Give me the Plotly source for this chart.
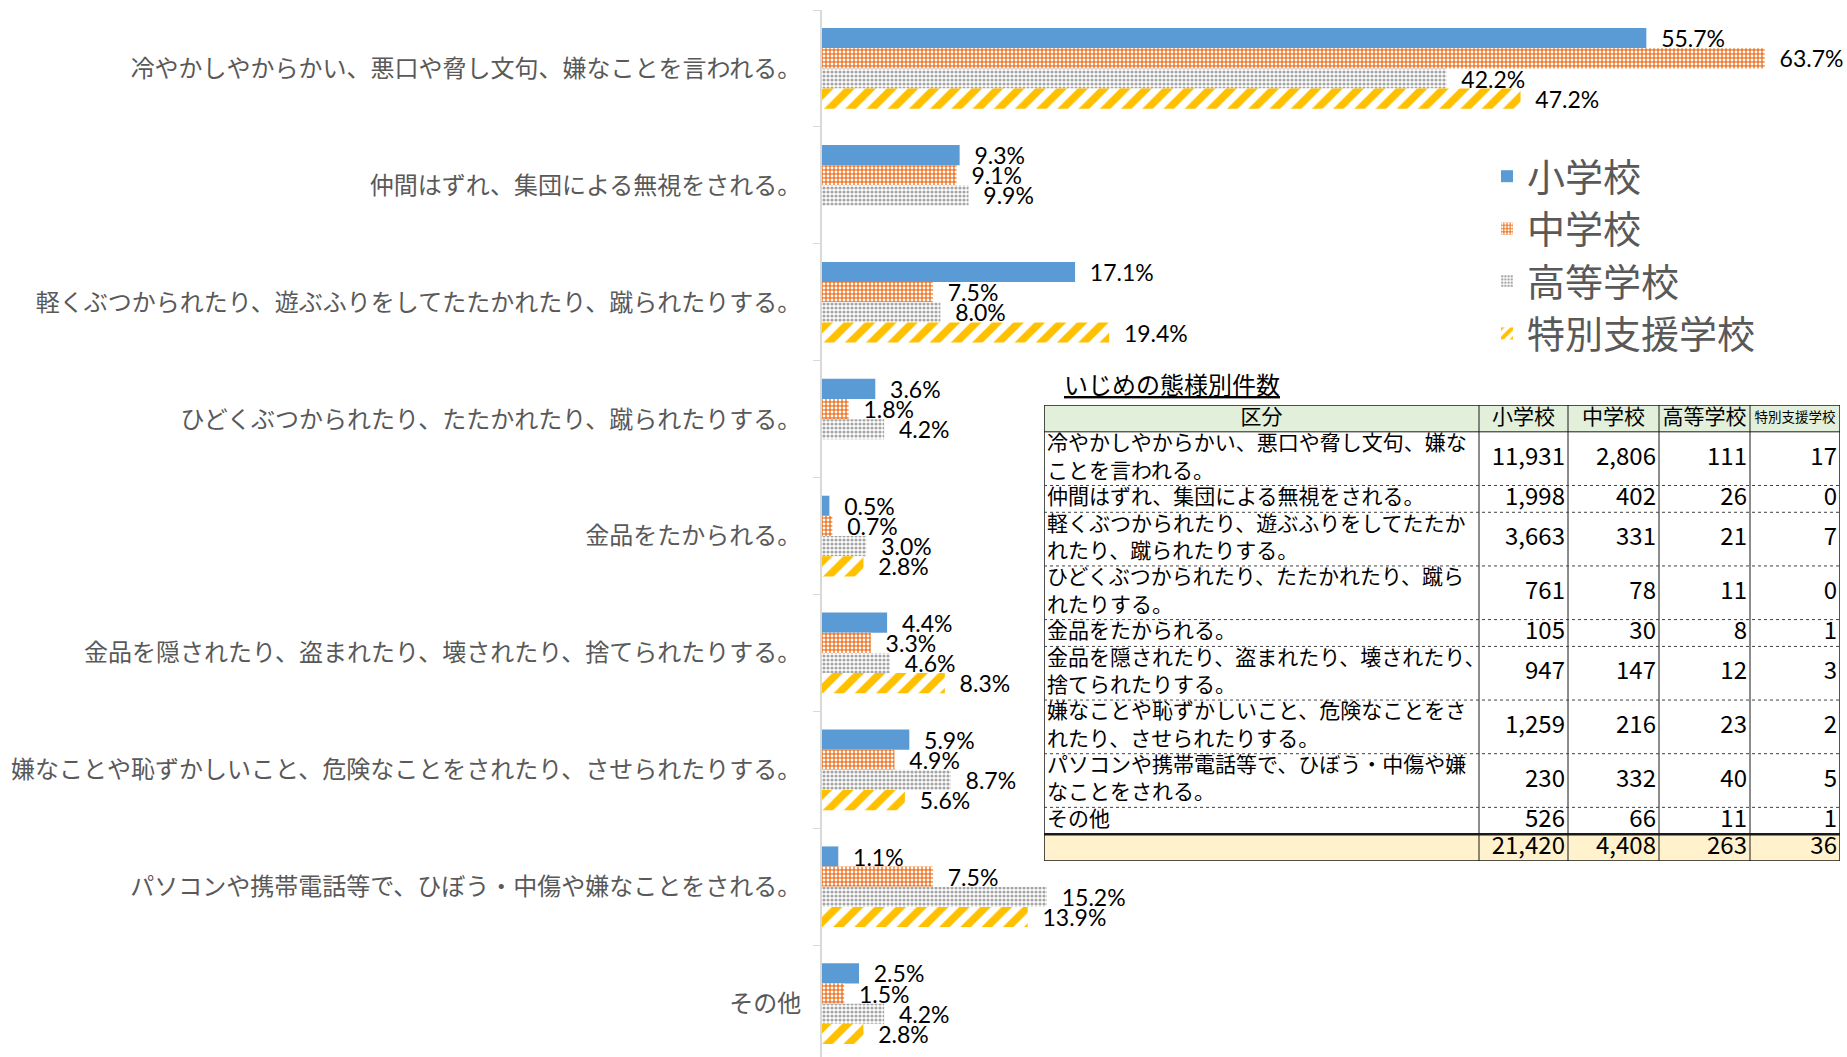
import plotly.graph_objects as go

# categories (bullying types) and schools
categories = [
    "冷やかしやからかい、悪口や脅し文句、嫌なことを言われる。",
    "仲間はずれ、集団による無視をされる。",
    "軽くぶつかられたり、遊ぶふりをしてたたかれたり、蹴られたりする。",
    "ひどくぶつかられたり、たたかれたり、蹴られたりする。",
    "金品をたかられる。",
    "金品を隠されたり、盗まれたり、壊されたり、捨てられたりする。",
    "嫌なことや恥ずかしいこと、危険なことをされたり、させられたりする。",
    "パソコンや携帯電話等で、ひぼう・中傷や嫌なことをされる。",
    "その他",
]
schools = ["小学校", "中学校", "高等学校", "特別支援学校"]

# percentages
pct_elementary = [55.7, 9.3, 17.1, 3.6, 0.5, 4.4, 5.9, 1.1, 2.5]
pct_junior = [63.7, 9.1, 7.5, 1.8, 0.7, 3.3, 4.9, 7.5, 1.5]
pct_high = [42.2, 9.9, 8.0, 4.2, 3.0, 4.6, 8.7, 15.2, 4.2]
pct_special = [47.2, 0, 19.4, 0, 2.8, 8.3, 5.6, 13.9, 2.8]

# table data
table_title = "いじめの態様別件数"
table_header = ["区分", "小学校", "中学校", "高等学校", "特別支援学校"]
table_rows = [
    "冷やかしやからかい、悪口や脅し文句、嫌な<br>ことを言われる。",
    "仲間はずれ、集団による無視をされる。",
    "軽くぶつかられたり、遊ぶふりをしてたたか<br>れたり、蹴られたりする。",
    "ひどくぶつかられたり、たたかれたり、蹴ら<br>れたりする。",
    "金品をたかられる。",
    "金品を隠されたり、盗まれたり、壊されたり、<br>捨てられたりする。",
    "嫌なことや恥ずかしいこと、危険なことをさ<br>れたり、させられたりする。",
    "パソコンや携帯電話等で、ひぼう・中傷や嫌<br>なことをされる。",
    "その他",
    "",
]
cnt_elementary = [11931, 1998, 3663, 761, 105, 947, 1259, 230, 526, 21420]
cnt_junior = [2806, 402, 331, 78, 30, 147, 216, 332, 66, 4408]
cnt_high = [111, 26, 21, 11, 8, 12, 23, 40, 11, 263]
cnt_special = [17, 0, 7, 0, 1, 3, 2, 5, 1, 36]

W, H = 1847, 1057
TOP = 10
JP = "Noto Sans CJK JP"


def py(px):
    # pixel from top of figure -> paper fraction
    return (H - px) / (H - TOP)


styles = [
    dict(color="#5B9BD5"),
    dict(color="#ED7D31", pattern=dict(shape=".", fgcolor="white", bgcolor="#ED7D31",
                                       size=4, solidity=0.4, fgopacity=1)),
    dict(color="#A5A5A5", pattern=dict(shape=".", fgcolor="#A5A5A5", bgcolor="white",
                                       size=4, solidity=0.5, fgopacity=1)),
    dict(color="#FFC000", pattern=dict(shape="/", fgcolor="#FFC000", bgcolor="white",
                                       size=15, solidity=0.5, fgopacity=1)),
]

fig = go.Figure()
for name, vals, st in zip(schools, [pct_elementary, pct_junior, pct_high, pct_special], styles):
    fig.add_trace(go.Bar(
        y=categories, x=vals, name=name, orientation="h",
        marker=dict(line=dict(width=0), **st),
        text=["\u00a0\u00a0" + f"{v:.1f}%" if v > 0 else "" for v in vals],
        textposition="outside", constraintext="none", cliponaxis=False,
        textfont=dict(family="Lato", size=23, color="black"),
    ))

# ---- table, drawn on its own axes (x2 in px units, y2 in text-line units) ----
col_w = [435, 89, 91, 91, 90]
col_edges = [0]
for w in col_w:
    col_edges.append(col_edges[-1] + w)
row_lines = [1] + [t.count("<br>") + 1 for t in table_rows]
row_edges = [0]
for n in row_lines:
    row_edges.append(row_edges[-1] + n)
row_mid = [(row_edges[i] + row_edges[i + 1]) / 2 for i in range(len(row_lines))]
n_lines = row_edges[-1]

columns = [table_rows, cnt_elementary, cnt_junior, cnt_high, cnt_special]
for ci, col in enumerate(columns):
    # header
    fig.add_trace(go.Scatter(
        x=[(col_edges[ci] + col_edges[ci + 1]) / 2], y=[row_mid[0]], xaxis="x2", yaxis="y2",
        mode="text", text=[table_header[ci]], textposition="middle center",
        textfont=dict(family=JP, size=13.5 if ci == 4 else 21, color="black"),
        showlegend=False, hoverinfo="skip", cliponaxis=False,
    ))
    if ci == 0:
        xs = [col_edges[0] + 3] * len(col)
        txt = col
        pos = "middle right"
        size = 21
    else:
        xs = [col_edges[ci + 1] - 3] * len(col)
        txt = [f"{v:,}" for v in col]
        pos = "middle left"
        size = 24
    fig.add_trace(go.Scatter(
        x=xs, y=row_mid[1:], xaxis="x2", yaxis="y2",
        mode="text", text=txt, textposition=pos,
        textfont=dict(family=JP, size=size, color="black"),
        showlegend=False, hoverinfo="skip", cliponaxis=False,
    ))

shapes = [
    dict(type="rect", xref="x2", yref="y2", x0=0, x1=col_edges[-1], y0=0, y1=row_edges[1],
         fillcolor="#E2EFDA", line_width=0, layer="below"),
    dict(type="rect", xref="x2", yref="y2", x0=0, x1=col_edges[-1], y0=row_edges[-2], y1=row_edges[-1],
         fillcolor="#FFF2CC", line_width=0, layer="below"),
    dict(type="rect", xref="x2", yref="y2", x0=0, x1=col_edges[-1], y0=0, y1=n_lines,
         line=dict(color="#1a1a1a", width=1.5)),
]
for xe in col_edges[1:-1]:
    shapes.append(dict(type="line", xref="x2", yref="y2", x0=xe, x1=xe, y0=0, y1=n_lines,
                       line=dict(color="#1a1a1a", width=1)))
for i, ye in enumerate(row_edges[1:-1], start=1):
    if i == 1:
        ln = dict(color="#1a1a1a", width=1)
    elif i == len(row_edges) - 2:
        ln = dict(color="#1a1a1a", width=2.5)
    else:
        ln = dict(color="#404040", width=1, dash="dot")
    shapes.append(dict(type="line", xref="x2", yref="y2", x0=0, x1=col_edges[-1], y0=ye, y1=ye, line=ln))

fig.add_annotation(
    text="<u>" + table_title + "</u>", xref="paper", yref="paper",
    x=1062 / W, y=py(383), xanchor="left", yanchor="middle",
    showarrow=False, font=dict(family=JP, size=24, color="black"),
)

fig.update_layout(
    width=W, height=H,
    margin=dict(l=0, r=0, t=TOP, b=0),
    paper_bgcolor="white", plot_bgcolor="white",
    barmode="group", bargap=0.31, bargroupgap=0,
    shapes=shapes,
    xaxis=dict(domain=[822 / W, 1], range=[0, (W - 822) / 14.8], visible=False),
    yaxis=dict(
        type="category", range=[-0.5 + (H - TOP) / 116.9, -0.5], automargin=False,
        showline=True, linecolor="#D9D9D9", linewidth=2,
        ticks="outside", tickson="boundaries", ticklen=7, tickcolor="#D9D9D9",
        ticklabelstandoff=14, showgrid=False,
        tickfont=dict(family=JP, size=24, color="#595959"),
    ),
    xaxis2=dict(domain=[1044 / W, (1044 + col_edges[-1]) / W], range=[0, col_edges[-1]],
                anchor="y2", visible=False, fixedrange=True),
    yaxis2=dict(domain=[py(861), py(405)], range=[n_lines, 0], anchor="x2",
                visible=False, fixedrange=True),
    legend=dict(
        x=1487 / W, y=py(145), xanchor="left", yanchor="top",
        traceorder="normal", bgcolor="rgba(0,0,0,0)",
        font=dict(family=JP, size=38, color="#595959"),
    ),
)

fig.write_html("out.html", config={"displayModeBar": False},
               post_script="document.body.style.margin='0px';")
